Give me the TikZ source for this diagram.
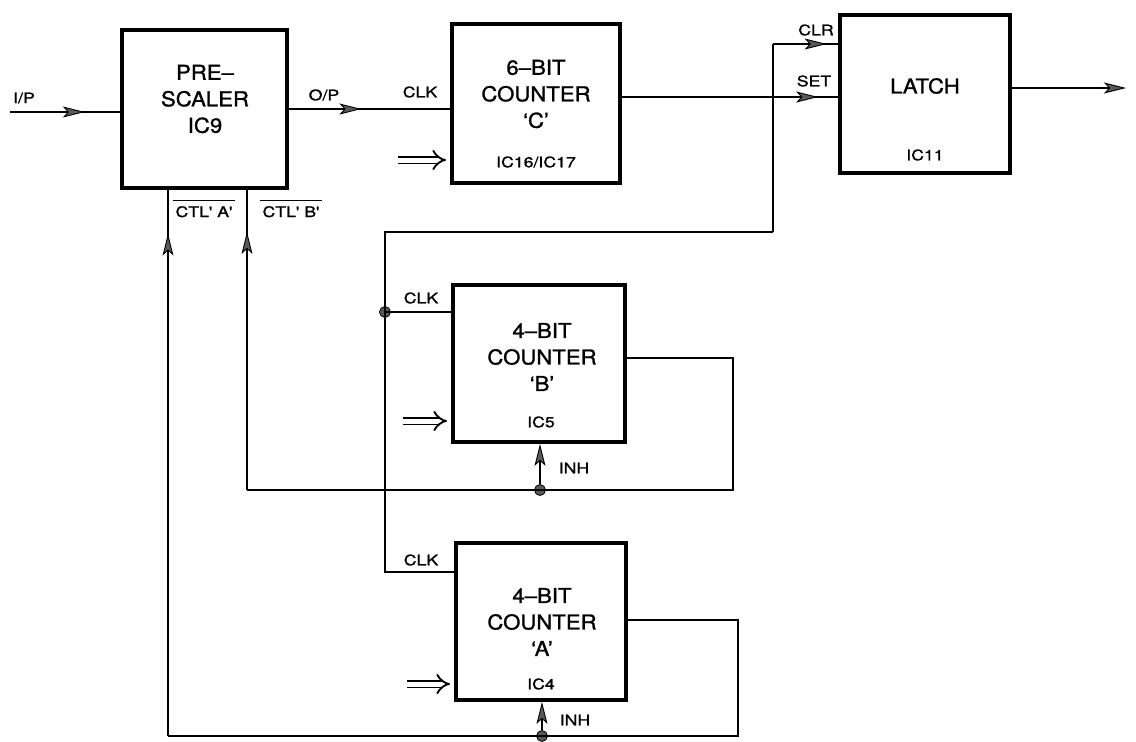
\documentclass[tikz,border=0pt]{standalone}
\usepackage{fontspec}
\setmainfont{TeX Gyre Heros}
\newfontfamily\bigfont[FakeStretch=1.08,FakeBold=1.2]{TeX Gyre Heros}
\newfontfamily\smallfont[FakeStretch=1.22,FakeBold=1.2]{TeX Gyre Heros}
\usetikzlibrary{arrows.meta,decorations.markings}
\begin{document}
\begin{tikzpicture}[x=1pt,y=-1pt,
  box/.style={draw, line width=3.8pt, inner sep=0pt},
  wire/.style={line width=2.1pt},
  garrow/.tip={Stealth[length=22pt,width=11pt,inset=5pt,fill=black!65,line width=0.9pt]},
  midarrow/.style={postaction={decorate},decoration={markings,mark=at position #1 with {\arrow{garrow}}}},
  lbl/.style={font=\smallfont\fontsize{14.5}{16}\selectfont, inner sep=0pt},
  big/.style={font=\bigfont\fontsize{20.5}{26.5}\selectfont, align=center, inner sep=0pt},
  sub/.style={font=\smallfont\fontsize{14.5}{16}\selectfont, inner sep=0pt},
  dot/.style={circle, fill=black!65, draw=black, line width=0.8pt, inner sep=0pt, minimum size=11pt},
  dbl/.style={double, double distance=5pt, line width=1.9pt, -{Implies}}]
\useasboundingbox (0,0) rectangle (1136,742);

% boxes
\node[box, minimum width=165pt, minimum height=158pt] (pre) at (204.5,109) {};
\node[box, minimum width=168pt, minimum height=159pt] (cC) at (536,103.5) {};
\node[box, minimum width=170pt, minimum height=158pt] (latch) at (925,94) {};
\node[box, minimum width=172pt, minimum height=157pt] (cB) at (539,363.5) {};
\node[box, minimum width=170pt, minimum height=157pt] (cA) at (541,621.5) {};

% box texts
\node[big] (preT) at (205,99) {PRE–\\SCALER\\IC9};
\node[big] (cCT) at (536,94) {6–BIT\\COUNTER\\‘C’};
\node[sub] (cCic) at (536,162) {IC16/IC17};
\node[big] (latchT) at (925,86) {LATCH};
\node[sub] (latchic) at (925,155) {IC11};
\node[big] (cBT) at (542,357) {4–BIT\\COUNTER\\‘B’};
\node[sub] (cBic) at (541,422) {IC5};
\node[big] (cAT) at (542,622) {4–BIT\\COUNTER\\‘A’};
\node[sub] (cAic) at (541,684) {IC4};

% labels
\node[lbl] (lip) at (24,98) {I/P};
\node[lbl] (lop) at (324,95) {O/P};
\node[lbl] (lclkC) at (420,92) {CLK};
\node[lbl] (lclr) at (816,30) {CLR};
\node[lbl] (lset) at (814,81) {SET};
\node[lbl] (lclkB) at (421,298) {CLK};
\node[lbl] (lclkA) at (421,560) {CLK};
\node[lbl] (linhB) at (574,468) {INH};
\node[lbl] (linhA) at (575,720) {INH};
\node[lbl, anchor=base] (lctla) at (204,217) {$\overline{\mbox{\rule{0pt}{15pt}\,CTL' A'\,}}$};
\node[lbl, anchor=base] (lctlb) at (291,217) {$\overline{\mbox{\rule{0pt}{15pt}\,CTL' B'\,}}$};

% junction dots
\node[dot] (d1) at (385,312) {};
\node[dot] (dB) at (540,490) {};
\node[dot] (dA) at (542,736) {};

% coordinates
\coordinate (ip) at (10,112);
\coordinate (setin) at (840,97);
\coordinate (clrin) at (840,44);
\coordinate (j1) at (773,44);
\coordinate (j2) at (773,232);
\coordinate (j3) at (385,232);
\coordinate (clkAin) at (456,572);
\coordinate (bo1) at (733,358);
\coordinate (bo2) at (733,490);
\coordinate (bo3) at (247,490);
\coordinate (ao1) at (738,620);
\coordinate (ao2) at (738,736);
\coordinate (ao3) at (168,736);
\coordinate (out) at (1126,88);

% connectors
\draw[wire, midarrow=0.68] (ip) -- (ip -| pre.west);
\draw[wire, midarrow=0.45] (pre.east) -- (pre.east -| cC.west);
\draw[wire, midarrow=0.9] (cC.east |- setin) -- (setin);
\draw[wire] (j2) -- (j1);
\draw[wire, midarrow=0.8] (j1) -- (clrin);
\draw[wire] (j2) -- (j3) -- (d1.center) -- (j3 |- clkAin) -- (clkAin);
\draw[wire] (d1.center) -- (d1.center -| cB.west);
\draw[wire, -{garrow}] (latch.east |- out) -- (out);

% counter B feedback
\draw[wire] (cB.east |- bo1) -- (bo1) -- (bo2) -- (dB.center) -- (bo3);
\draw[wire, midarrow=0.86] (bo3) -- (bo3 |- pre.south);
\draw[wire, -{garrow}] (dB) -- (dB.center |- cB.south);

% counter A feedback
\draw[wire] (cA.east |- ao1) -- (ao1) -- (ao2) -- (dA.center) -- (ao3);
\draw[wire, midarrow=0.92] (ao3) -- (ao3 |- pre.south);
\draw[wire, -{garrow}] (dA) -- (dA.center |- cA.south);

% data inputs
\draw[dbl] (398,160) -- (446,160);
\draw[dbl] (403,421) -- (447,421);
\draw[dbl] (407,684) -- (450,684);
\end{tikzpicture}
\end{document}
